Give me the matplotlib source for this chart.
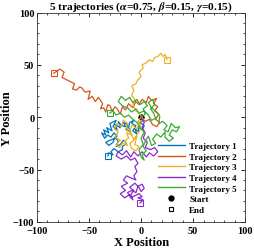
import matplotlib
matplotlib.use('Agg')
import matplotlib.pyplot as plt
from matplotlib.lines import Line2D
from matplotlib.ticker import MultipleLocator
import numpy as np

plt.rcParams['font.family'] = ['Liberation Serif', 'DejaVu Serif']
plt.rcParams['font.weight'] = 'bold'
plt.rcParams['mathtext.fontset'] = 'stix'

# waypoints, (x, y)
traj1 = [(0, 0), (2, -3), (-1, -5), (3, -8), (1, -12), (-3, -9), (-2, -14), (-6, -11),
         (-4, -16), (-8, -13), (-5, -8), (-9, -6), (-7, -3), (-11, -5), (-12, -10), (-10, -14),
         (-14, -12), (-13, -7), (-17, -5), (-15, -9), (-19, -8), (-22, -4), (-20, -10),
         (-25, -7), (-23, -12), (-27, -9), (-24, -3), (-28, -5), (-30, -6), (-28, -13),
         (-33, -10), (-31, -15), (-36, -12), (-34, -17), (-38, -15), (-35, -20), (-32, -17),
         (-29, -19), (-26, -15), (-23, -18), (-27, -21), (-30, -22), (-34, -24), (-31, -27),
         (-27, -24), (-25, -19), (-22, -23), (-24, -28), (-20, -26), (-17, -22), (-14, -25),
         (-18, -28), (-18, -31), (-22, -33), (-26, -30), (-29, -33), (-27, -36), (-31, -34),
         (-32, -37)]
traj2 = [(0, 0), (4, -4), (8, -2), (11, -7), (15, -9), (18, -5), (14, -2), (17, 3), (13, 6),
         (16, 10), (12, 13), (15, 18), (10, 16), (7, 20), (5, 14), (1, 17), (-2, 12), (-5, 15),
         (-8, 9), (-12, 13), (-15, 7), (-18, 10), (-20, 3), (-23, 8), (-25, 10), (-28, 6),
         (-30, 11), (-32, 12), (-34, 5), (-36, 9), (-39, 8), (-37, 13), (-41, 19), (-44, 15),
         (-47, 20), (-51, 17), (-49, 25), (-54, 24), (-57, 28), (-59, 29), (-62, 26), (-66, 27),
         (-64, 32), (-68, 34), (-72, 36), (-76, 38), (-74, 43), (-78, 46), (-81, 44), (-84, 42)]
traj3 = [(0, 0), (-3, -4), (-1, -8), (-5, -11), (-8, -7), (-11, -12), (-9, -17), (-14, -15),
         (-12, -20), (-16, -23), (-13, -27), (-18, -25), (-21, -29), (-24, -26), (-20, -22),
         (-25, -19), (-22, -14), (-26, -11), (-23, -6), (-19, -9), (-17, -3), (-13, -6),
         (-15, -12), (-10, -15), (-7, -21), (-4, -18), (-6, -26), (-2, -28), (-5, -32),
         (-9, -30), (-11, -25), (-7, -22), (-3, -15), (0, -11), (-2, -5), (2, -2), (-1, 3),
         (-5, 6), (-8, 12), (-6, 17), (-9, 21), (-7, 26), (-9, 30), (-5, 32), (-3, 36), (0, 39),
         (-2, 43), (2, 47), (1, 50), (5, 52), (8, 55), (11, 53), (13, 57), (16, 58), (19, 61),
         (21, 58), (23, 60), (25, 55)]
traj4 = [(0, 0), (3, -5), (1, -10), (4, -15), (2, -20), (6, -24), (4, -29), (9, -31), (13, -29),
         (16, -33), (12, -37), (8, -34), (5, -38), (1, -33), (-3, -37), (-7, -33), (-10, -38),
         (-14, -32), (-18, -36), (-22, -33), (-24, -37), (-19, -40), (-14, -37), (-10, -41),
         (-6, -39), (-3, -44), (-6, -47), (-4, -52), (-7, -56), (-5, -60), (-10, -58),
         (-14, -56), (-17, -60), (-13, -63), (-19, -66), (-15, -70), (-20, -73), (-16, -77),
         (-11, -74), (-8, -79), (-10, -74), (-7, -70), (-11, -67), (-6, -63), (-2, -67),
         (0, -71), (3, -68), (1, -64), (-3, -66), (-5, -72), (-9, -70), (-13, -72), (-10, -77),
         (-6, -75), (-2, -73), (1, -76), (-3, -77), (2, -79), (-1, -82)]
traj5 = [(0, 0), (4, 3), (2, 8), (6, 11), (3, 15), (-1, 12), (-4, 17), (-8, 14), (-11, 19),
         (-15, 16), (-19, 20), (-22, 15), (-18, 11), (-13, 9), (-9, 5), (-5, 8), (-2, 4), (3, 6),
         (7, 2), (10, -3), (14, -1), (12, 4), (9, 8), (13, 12), (11, 17), (7, 14), (10, 9),
         (15, 5), (18, 1), (17, -6), (21, -4), (25, -8), (22, -12), (26, -14), (29, -6),
         (33, -10), (37, -9), (34, -14), (30, -12), (27, -17), (31, -20), (27, -23), (23, -19),
         (23, -14), (19, -19), (15, -16), (11, -21), (14, -25), (10, -27), (7, -18), (4, -23),
         (2, -28), (5, -32), (1, -36), (3, -41), (0, -38), (-2, -31), (2, -26), (0, -20),
         (3, -14), (-1, -10), (-4, -5), (-8, -2), (-12, 2), (-16, 0), (-20, 4), (-24, 2),
         (-27, 6), (-30, 4)]

trajs = [traj1, traj2, traj3, traj4, traj5]
labels = ['Trajectory 1', 'Trajectory 2', 'Trajectory 3', 'Trajectory 4', 'Trajectory 5']
colors = ['#0072BD', '#D95319', '#EDB120', '#8A2BD0', '#3CAA32']

fig = plt.figure(figsize=(2.54, 2.51), dpi=100)
ax = fig.add_axes([0.146, 0.112, 0.819, 0.834])

for t, c in zip(trajs, colors):
    p = np.array(t, dtype=float)
    ax.plot(p[0, 0], p[0, 1], 'o', color='k', ms=3, zorder=1)
    ax.plot(p[:, 0], p[:, 1], color=c, lw=0.9, zorder=2)
    ax.plot(p[-1, 0], p[-1, 1], 's', mfc='none', mec=c, ms=5, mew=0.8, zorder=3)

ax.set_xlim(-100, 100)
ax.set_ylim(-100, 100)
ax.xaxis.set_major_locator(MultipleLocator(50))
ax.yaxis.set_major_locator(MultipleLocator(50))
ax.xaxis.set_minor_locator(MultipleLocator(10))
ax.yaxis.set_minor_locator(MultipleLocator(10))
ax.tick_params(which='both', direction='in', top=True, right=True, labelsize=7.5)
ax.tick_params(axis='x', pad=3)
ax.tick_params(axis='y', pad=2)
ax.tick_params(which='major', length=3, width=0.6)
ax.tick_params(which='minor', length=1.5, width=0.5)
for s in ax.spines.values():
    s.set_linewidth(0.6)
    s.set_color('#333333')

ax.set_xlabel('X Position', fontsize=9, fontweight='bold', labelpad=1)
ax.set_ylabel('Y Position', fontsize=9, fontweight='bold', labelpad=0)
ax.set_title(r'5 trajectories ($\alpha$=0.75, $\beta$=0.15, $\gamma$=0.15)',
             fontsize=8.2, fontweight='bold', pad=1)

handles = [Line2D([], [], color=c, lw=1) for c in colors]
handles.append(Line2D([], [], ls='none', marker='o', color='k', ms=3.5))
handles.append(Line2D([], [], ls='none', marker='s', mfc='none', mec='k', ms=3, mew=0.8))
ax.legend(handles, labels + ['Start', 'End'], loc='lower right', frameon=False,
          fontsize=6.5, handlelength=3.0, handletextpad=0.5, labelspacing=0.25,
          borderaxespad=0.5)

fig.savefig('out.png', dpi=100)
